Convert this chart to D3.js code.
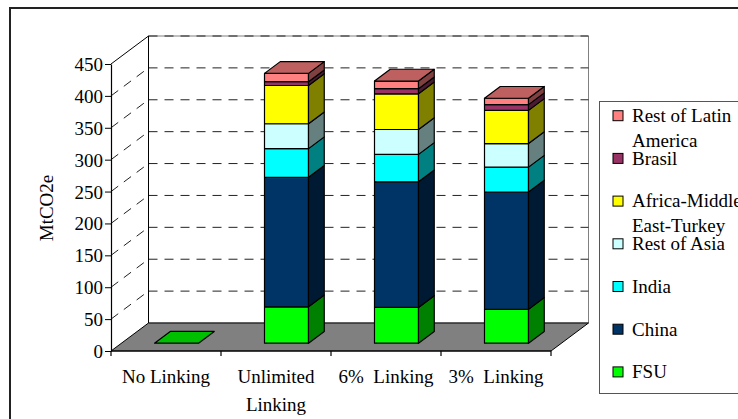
<!DOCTYPE html>
<html>
<head>
<meta charset="utf-8">
<script src="https://cdn.jsdelivr.net/npm/d3@7"></script>
<style>
  body { margin: 0; background: #fff; }
  text { font-family: "Liberation Serif", "Times New Roman", serif; fill: #000; }
</style>
</head>
<body>
<div id="chart"></div>
<script>
// categories and stacked series (bottom to top), MtCO2e
var categories = ["No Linking", "Unlimited Linking", "6%  Linking", "3%  Linking"];
var categoryLines = [["No Linking"], ["Unlimited", "Linking"], ["6%  Linking"], ["3%  Linking"]];
var seriesNames = ["FSU", "China", "India", "Rest of Asia", "Africa-Middle East-Turkey", "Brasil", "Rest of Latin America"];
var fsu = [0, 57, 56, 53];
var china = [0, 203, 197, 184];
var india = [0, 45, 43, 39];
var restOfAsia = [0, 39, 39, 37];
var africaMiddleEast = [0, 60, 56, 52];
var brasil = [0, 6, 8, 9];
var restOfLatinAmerica = [0, 13, 12, 10];
var seriesColors = ["#00ff00", "#003366", "#00ffff", "#ccffff", "#ffff00", "#993366", "#ff8080"];
var legendLines = [["FSU"], ["China"], ["India"], ["Rest of Asia"], ["Africa-Middle", "East-Turkey"], ["Brasil"], ["Rest of Latin", "America"]];
var yTicks = [0, 50, 100, 150, 200, 250, 300, 350, 400, 450];

var seriesValues = [fsu, china, india, restOfAsia, africaMiddleEast, brasil, restOfLatinAmerica];
var table = categories.map(function(c, i) {
	var row = {category: c};
	seriesNames.forEach(function(s, k) { row[s] = seriesValues[k][i]; });
	return row;
});

var width = 738, height = 419;
var depth = {x: 37.5, y: -28};
var f0 = 0.28, f1 = 0.70;

var svg = d3.select("#chart").append("svg")
	.attr("width", width)
	.attr("height", height);

// outer frame
svg.append("rect")
	.attr("x", 10).attr("y", 8)
	.attr("width", 760).attr("height", 440)
	.attr("fill", "none").attr("stroke", "#222").attr("stroke-width", 2);

var x = d3.scaleBand().domain(categories).range([111, 551]);
var y = d3.scaleLinear().domain([0, 450]).range([351, 64]);

function shade(c, k) {
	var r = d3.rgb(c);
	return d3.rgb(r.r * k, r.g * k, r.b * k).toString();
}
function pts(arr) { return arr.map(function(p) { return p.join(","); }).join(" "); }

var x0 = x.range()[0], x1 = x.range()[1];
var yb = y(0), yt = y(450);

// back wall
svg.append("polygon")
	.attr("points", pts([[x0 + depth.x, yt + depth.y], [x1 + depth.x, yt + depth.y], [x1 + depth.x, yb + depth.y], [x0 + depth.x, yb + depth.y]]))
	.attr("fill", "#fff").attr("stroke", "#808080").attr("stroke-width", 1);

// gridlines on back and left walls
var grid = svg.append("g").attr("stroke", "#222").attr("stroke-width", 1).attr("stroke-dasharray", "9,7");
yTicks.filter(function(v) { return v > 0; }).forEach(function(v) {
	grid.append("line")
		.attr("x1", x0 + depth.x).attr("y1", y(v) + depth.y)
		.attr("x2", x1 + depth.x).attr("y2", y(v) + depth.y);
	if (v < 450) {
		grid.append("line")
			.attr("x1", x0).attr("y1", y(v))
			.attr("x2", x0 + depth.x).attr("y2", y(v) + depth.y);
	}
});

// left wall edges
svg.append("polyline")
	.attr("points", pts([[x0, yt], [x0 + depth.x, yt + depth.y], [x0 + depth.x, yb + depth.y]]))
	.attr("fill", "none").attr("stroke", "#000").attr("stroke-width", 1);

// floor
svg.append("polygon")
	.attr("points", pts([[x0, yb], [x1, yb], [x1 + depth.x, yb + depth.y], [x0 + depth.x, yb + depth.y]]))
	.attr("fill", "#808080").attr("stroke", "#000").attr("stroke-width", 1);

// bars
var stack = d3.stack().keys(seriesNames)(table);
var bw = x.bandwidth() * 0.4;
var bars = svg.append("g").attr("stroke", "#000").attr("stroke-width", 1.2).attr("stroke-linejoin", "round");

categories.forEach(function(c, i) {
	var bx = x(c) + (x.bandwidth() - bw) / 2;
	var topIdx = 0;
	stack.forEach(function(layer, k) {
		var v0 = layer[i][0], v1 = layer[i][1];
		if (v1 - v0 <= 0) return;
		topIdx = k;
		var ya = y(v0), yz = y(v1);
		bars.append("rect")
			.attr("x", bx + f0 * depth.x).attr("y", yz + f0 * depth.y)
			.attr("width", bw).attr("height", ya - yz)
			.attr("fill", seriesColors[k]);
		bars.append("polygon")
			.attr("points", pts([
				[bx + bw + f0 * depth.x, ya + f0 * depth.y],
				[bx + bw + f0 * depth.x, yz + f0 * depth.y],
				[bx + bw + f1 * depth.x, yz + f1 * depth.y],
				[bx + bw + f1 * depth.x, ya + f1 * depth.y]]))
			.attr("fill", shade(seriesColors[k], 0.5));
	});
	var vt = stack[stack.length - 1][i][1];
	var ytop = y(vt);
	bars.append("polygon")
		.attr("points", pts([
			[bx + f0 * depth.x, ytop + f0 * depth.y],
			[bx + bw + f0 * depth.x, ytop + f0 * depth.y],
			[bx + bw + f1 * depth.x, ytop + f1 * depth.y],
			[bx + f1 * depth.x, ytop + f1 * depth.y]]))
		.attr("fill", shade(seriesColors[topIdx], 0.75));
});

// y axis
var yAxis = svg.append("g")
	.attr("transform", "translate(" + x0 + ",0)")
	.call(d3.axisLeft(y).tickValues(yTicks).tickSize(6).tickSizeOuter(0).tickPadding(2));
yAxis.select(".domain").attr("stroke", "#000").attr("stroke-width", 1.2);
yAxis.selectAll(".tick line").attr("stroke", "#000");
yAxis.selectAll("text")
	.attr("font-family", "Liberation Serif, Times New Roman, serif")
	.attr("font-size", 19).attr("dy", "0.34em");

svg.append("text")
	.attr("transform", "translate(53,208) rotate(-90)")
	.attr("text-anchor", "middle")
	.attr("font-size", 19)
	.text("MtCO2e");

// x axis
var xAxis = svg.append("g").attr("stroke", "#000").attr("stroke-width", 1.2);
xAxis.append("line").attr("x1", x0).attr("x2", x1).attr("y1", yb).attr("y2", yb);
categories.concat([null]).forEach(function(c) {
	var px = c === null ? x1 : x(c);
	xAxis.append("line").attr("x1", px).attr("x2", px).attr("y1", yb).attr("y2", yb + 5);
});
categories.forEach(function(c, i) {
	var t = svg.append("text")
		.attr("text-anchor", "middle")
		.attr("font-size", 19)
		.attr("xml:space", "preserve")
		.style("white-space", "pre");
	categoryLines[i].forEach(function(line, j) {
		t.append("tspan")
			.attr("x", x(c) + x.bandwidth() / 2)
			.attr("y", 383 + j * 28)
			.text(line);
	});
});

// legend
svg.append("rect")
	.attr("x", 599.5).attr("y", 101.5)
	.attr("width", 200).attr("height", 292)
	.attr("fill", "#fff").attr("stroke", "#555").attr("stroke-width", 1);

var legendOrder = d3.range(seriesNames.length).reverse();
legendOrder.forEach(function(k, j) {
	var base = 122 + j * 42.7;
	var g = svg.append("g");
	g.append("rect")
		.attr("x", 613).attr("y", base - 11.3)
		.attr("width", 10).attr("height", 10)
		.attr("fill", seriesColors[k]).attr("stroke", "#000").attr("stroke-width", 1);
	legendLines[k].forEach(function(line, m) {
		g.append("text")
			.attr("x", 632).attr("y", base + m * 24.5)
			.attr("font-size", 19)
			.text(line);
	});
});
</script>
</body>
</html>
